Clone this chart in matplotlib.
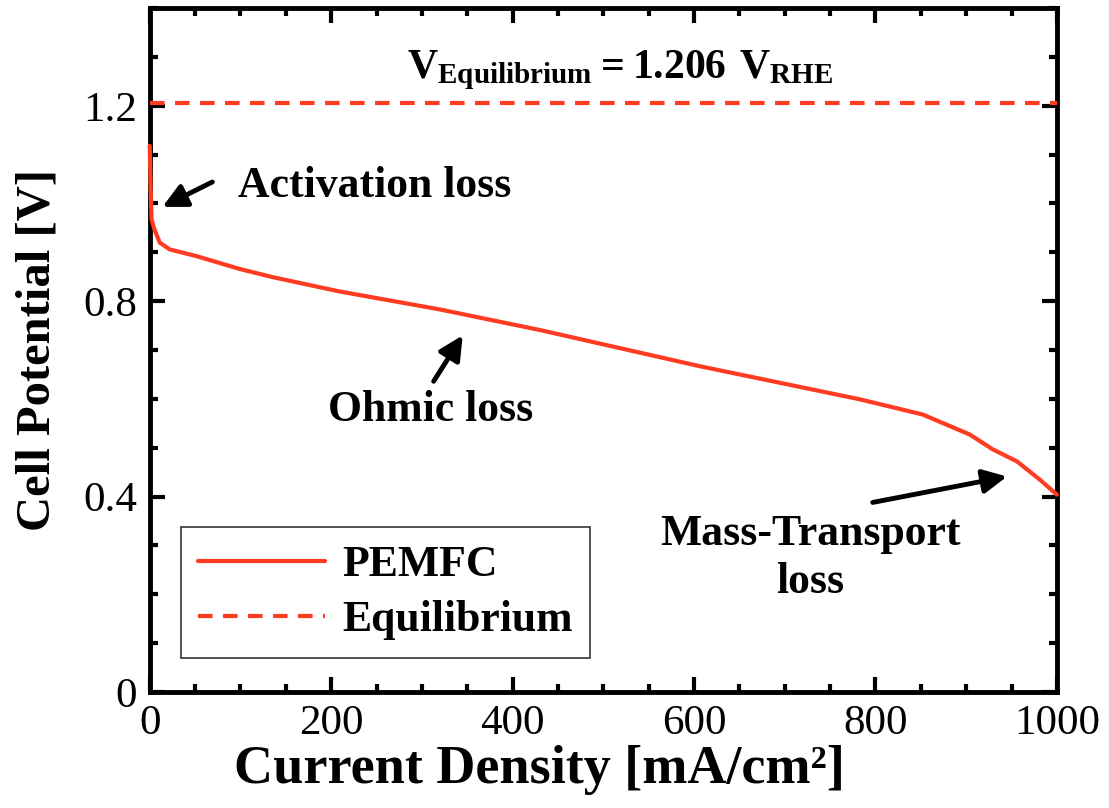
import matplotlib
matplotlib.use("Agg")
import matplotlib.pyplot as plt
from matplotlib.ticker import MultipleLocator, FuncFormatter

plt.rcParams["font.family"] = ["Liberation Serif", "DejaVu Serif"]
plt.rcParams["mathtext.fontset"] = "custom"
plt.rcParams["mathtext.rm"] = "Liberation Serif"
plt.rcParams["mathtext.bf"] = "Liberation Serif:bold"

# ── Data ────────────────────────────────────────────────────────────────────
current = [0, 1, 2, 5, 11, 22, 52, 99, 136, 209, 320, 430, 606, 783,
           852, 904, 929, 956, 981, 1000]
potential = [1.118, 1.035, 0.968, 0.948, 0.920, 0.906, 0.892, 0.866, 0.849,
             0.820, 0.783, 0.741, 0.667, 0.599, 0.568, 0.527, 0.497, 0.472,
             0.435, 0.404]
v_eq = 1.206
eq_x = [0, 1000]

RED = "#FF3B22"

fig = plt.figure(figsize=(11.09, 8.08), dpi=100)
ax = fig.add_axes([0.135, 0.1436, 0.818, 0.8464])

ax.plot(current, potential, color=RED, lw=3, label="PEMFC",
        solid_capstyle="round", zorder=3, clip_on=False)
ax.plot(eq_x, [v_eq, v_eq], color=RED, lw=3, ls=(0, (3.5, 2.5)),
        label="Equilibrium", zorder=3)

ax.set_xlim(0, 1000)
ax.set_ylim(0, 1.4)
ax.xaxis.set_major_locator(MultipleLocator(200))
ax.xaxis.set_minor_locator(MultipleLocator(50))
ax.yaxis.set_major_locator(MultipleLocator(0.4))
ax.yaxis.set_minor_locator(MultipleLocator(0.1))
ax.yaxis.set_major_formatter(FuncFormatter(lambda v, p: f"{v:g}"))

ax.tick_params(which="both", direction="in", top=True, right=True,
               width=3, labelsize=31, pad=9)
ax.tick_params(which="major", length=11)
ax.tick_params(which="minor", length=6)
for s in ax.spines.values():
    s.set_linewidth(3.5)

ax.set_xlabel("Current Density [mA/cm²]", fontsize=39, fontweight="bold")
ax.xaxis.set_label_coords(0.43, -0.077)
ax.set_ylabel("Cell Potential [V]", fontsize=35, fontweight="bold", labelpad=17)

# ── Annotations ─────────────────────────────────────────────────────────────
arrow = dict(arrowstyle="-|>", lw=3.5, color="black", mutation_scale=36,
             shrinkA=0, shrinkB=0)
txt = dict(fontsize=31.5, fontweight="bold")

ax.annotate("", xy=(14, 0.993), xytext=(69, 1.044), arrowprops=arrow)
ax.text(97, 1.036, "Activation loss", ha="left", va="center", **txt)

ax.annotate("", xy=(345, 0.730), xytext=(313, 0.636), arrowprops=arrow)
ax.text(310, 0.578, "Ohmic loss", ha="center", va="center", **txt)

ax.annotate("", xy=(945, 0.441), xytext=(797, 0.388), arrowprops=arrow)
ax.text(728, 0.275, "Mass-Transport\nloss", ha="center", va="center",
        linespacing=1.25, **txt)

ax.text(518, 1.272, r"$\mathbf{V_{Equilibrium}=1.206\ V_{RHE}}$",
        ha="center", va="center", fontsize=30)

leg = ax.legend(loc="lower left", bbox_to_anchor=(0.034, 0.05),
                borderaxespad=0,
                prop={"weight": "bold", "size": 31.5}, handlelength=2.9,
                fancybox=False, edgecolor="#333333", framealpha=1,
                borderpad=0.4, labelspacing=0.35, handletextpad=0.4)
leg.get_frame().set_linewidth(1.2)

fig.savefig("out.png", dpi=100)
